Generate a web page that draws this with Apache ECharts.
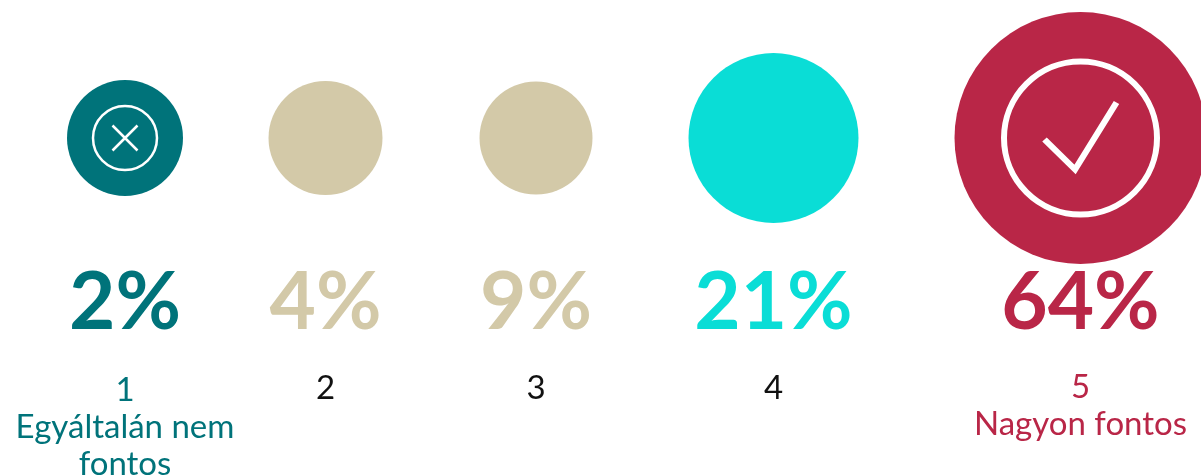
<!DOCTYPE html>
<html>
<head>
<meta charset="utf-8">
<style>html,body{margin:0;padding:0;background:#fff}#chart{width:1201px;height:475px}</style>
<script src="https://cdn.jsdelivr.net/npm/echarts@6/dist/echarts.min.js"></script>
</head>
<body>
<div id="chart"></div>
<script>
// Survey answers on a 1-5 importance scale
const categories = ['1\nEgyáltalán nem\nfontos', '2', '3', '4', '5\nNagyon fontos'];
const percentages = [2, 4, 9, 21, 64];

// Presentation settings for each column
const columnCentres = [125, 325.5, 536, 773.5, 1080.5];
const circleDiameters = [116, 114, 113, 170, 252];
const circleColours = ['#00737a', '#d3c9a8', '#d3c9a8', '#0addd6', '#b92647'];
const tickColours = ['#00737a', '#111111', '#111111', '#111111', '#b92647'];
const tickMargins = [96, 94, 94, 94, 93];

const GRID_WIDTH = 240;
const GRID_HEIGHT = 276;
const FONT = 'Lato, sans-serif';

const grids = [], xAxes = [], yAxes = [], series = [];

categories.forEach((name, i) => {
  grids.push({
    left: columnCentres[i] - GRID_WIDTH / 2,
    top: 0,
    width: GRID_WIDTH,
    height: GRID_HEIGHT,
    outerBoundsMode: 'none'
  });
  xAxes.push({
    gridIndex: i,
    type: 'category',
    data: [name],
    axisLine: { show: false },
    axisTick: { show: false },
    splitLine: { show: false },
    axisLabel: {
      interval: 0,
      margin: tickMargins[i],
      color: tickColours[i],
      fontFamily: FONT,
      fontSize: 33,
      lineHeight: 37
    }
  });
  yAxes.push({ gridIndex: i, type: 'category', data: [''], show: false });
  series.push({
    type: 'scatter',
    xAxisIndex: i,
    yAxisIndex: i,
    silent: true,
    symbol: 'circle',
    symbolSize: circleDiameters[i],
    itemStyle: { color: circleColours[i], opacity: 1 },
    label: {
      show: true,
      position: 'inside',
      offset: [0, 165],
      formatter: p => p.value[2] + '%',
      color: circleColours[i],
      fontFamily: FONT,
      fontWeight: 'bold',
      fontSize: 80
    },
    data: [[name, '', percentages[i]]]
  });
});

// Adds a white outlined glyph on top of a column's circle
function glyph(column, symbol, size, borderWidth, offset) {
  series.push({
    type: 'scatter',
    xAxisIndex: column,
    yAxisIndex: column,
    silent: true,
    z: 5,
    symbol,
    symbolSize: size,
    symbolOffset: offset,
    itemStyle: { color: 'rgba(0,0,0,0)', borderColor: '#ffffff', borderWidth, opacity: 1 },
    data: [[categories[column], '']]
  });
}

glyph(0, 'circle', 64, 2.5, [0, 0]);
glyph(0, 'path://M0 0L100 100M100 0L0 100', 25, 2.5, [0, 0]);
glyph(4, 'circle', 153, 6, [0, 0]);
glyph(4, 'path://M0 37L31 67L73 0', [72, 67], 6, [0, -2]);

echarts.init(document.getElementById('chart'), null, { renderer: 'canvas' }).setOption({
  animation: false,
  backgroundColor: '#ffffff',
  grid: grids,
  xAxis: xAxes,
  yAxis: yAxes,
  series
});
</script>
</body>
</html>
